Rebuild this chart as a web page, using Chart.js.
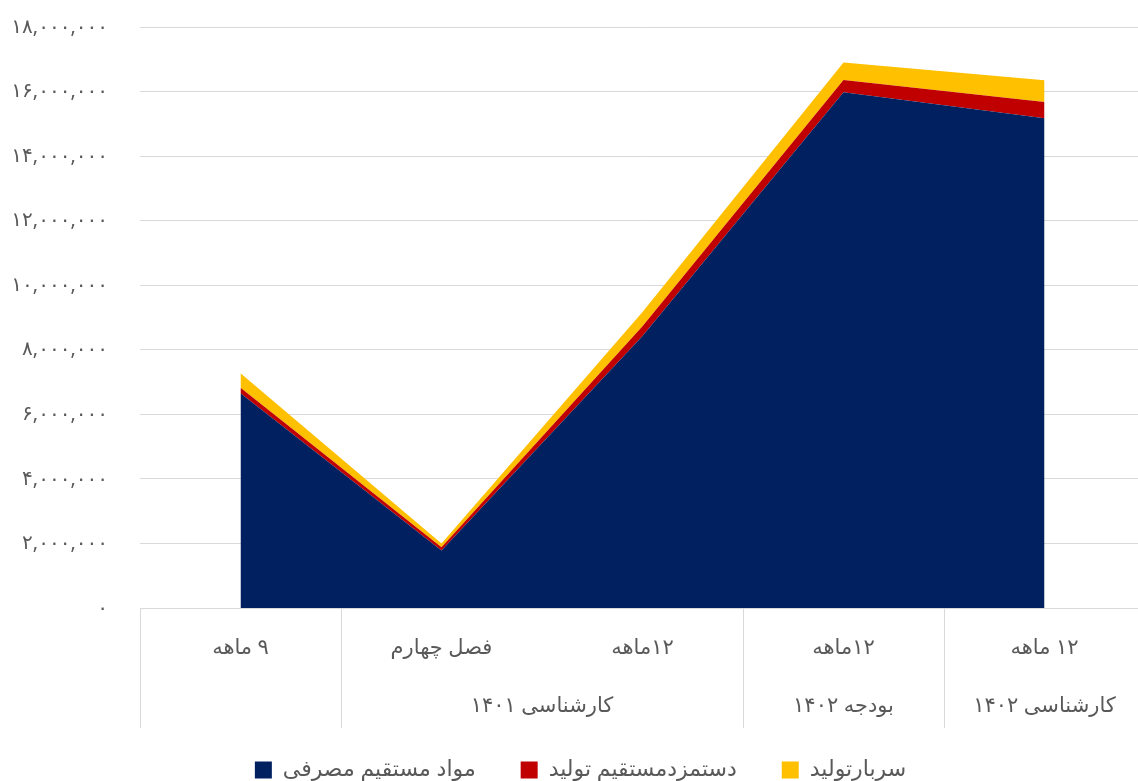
<!DOCTYPE html>
<html lang="fa">
<head>
    <meta charset="UTF-8">
    <title>بهای تمام شده - نمودار</title>
    <script src="https://cdn.jsdelivr.net/npm/chart.js"></script>
    <style>
        body, html {
            margin: 0;
            padding: 0;
            background: #fff;
            overflow: hidden;
        }
        #wrap {
            width: 1145px;
            height: 781px;
        }
    </style>
</head>
<body>

    <div id="wrap">
        <canvas id="costChart" width="1145" height="781" dir="rtl"></canvas>
    </div>

    <script>
        // Data
        const categories = ['۹ ماهه', 'فصل چهارم', '۱۲ماهه', '۱۲ماهه', '۱۲ ماهه'];
        const groupLabels = ['', 'کارشناسی ۱۴۰۱', 'بودجه ۱۴۰۲', 'کارشناسی ۱۴۰۲'];
        const groupSpans = [1, 2, 1, 1];

        const seriesNames = ['مواد مستقیم مصرفی', 'دستمزدمستقیم تولید', 'سربارتولید'];
        const materials = [6650000, 1780000, 8430000, 15980000, 15170000];
        const labor = [170000, 100000, 300000, 380000, 510000];
        const overhead = [450000, 120000, 440000, 540000, 670000];

        const yMin = 0;
        const yMax = 18000000;
        const yStep = 2000000;

        const textColor = '#595959';
        const gridColor = '#d9d9d9';
        const fontFamily = "'Noto Sans', 'DejaVu Sans', sans-serif";

        // turn 18,000,000 into Persian digits
        const faDigits = ['۰', '۱', '۲', '۳', '۴', '۵', '۶', '۷', '۸', '۹'];
        function toPersian(n) {
            return n.toLocaleString('en-US').replace(/[0-9]/g, d => faDigits[+d]);
        }

        // second row of the category axis + the separators
        const multiLevelAxis = {
            id: 'multiLevelAxis',
            afterLayout(chart) {
                // legend sits a little right of the canvas centre in the original
                chart.legend.left += 8;
                chart.legend.right += 8;
            },
            afterDraw(chart) {
                const ctx = chart.ctx;
                const area = chart.chartArea;
                const n = categories.length;
                const catW = (area.right - area.left) / n;
                const bottom = 728;

                ctx.save();
                ctx.strokeStyle = gridColor;
                ctx.lineWidth = 1;

                let idx = 0;
                const bounds = [0];
                groupSpans.forEach(s => { idx += s; bounds.push(idx); });
                bounds.forEach(b => {
                    const x = Math.round(area.left + b * catW) + 0.5;
                    ctx.beginPath();
                    ctx.moveTo(x, area.bottom);
                    ctx.lineTo(x, bottom);
                    ctx.stroke();
                });

                ctx.fillStyle = textColor;
                ctx.font = '21px ' + fontFamily;
                ctx.textAlign = 'center';
                ctx.textBaseline = 'middle';
                let start = 0;
                groupLabels.forEach((g, i) => {
                    const mid = area.left + (start + groupSpans[i] / 2) * catW;
                    if (g) ctx.fillText(g, mid, 706);
                    start += groupSpans[i];
                });
                ctx.restore();
            }
        };

        const ctx = document.getElementById('costChart').getContext('2d');
        new Chart(ctx, {
            type: 'line',
            data: {
                labels: categories,
                datasets: [{
                    label: seriesNames[0],
                    data: materials,
                    backgroundColor: '#002060',
                    borderColor: '#002060',
                    borderWidth: 0,
                    pointRadius: 0,
                    fill: 'origin'
                }, {
                    label: seriesNames[1],
                    data: labor,
                    backgroundColor: '#c00000',
                    borderColor: '#c00000',
                    borderWidth: 0,
                    pointRadius: 0,
                    fill: '-1'
                }, {
                    label: seriesNames[2],
                    data: overhead,
                    backgroundColor: '#ffc000',
                    borderColor: '#ffc000',
                    borderWidth: 0,
                    pointRadius: 0,
                    fill: '-1'
                }]
            },
            options: {
                responsive: false,
                animation: false,
                devicePixelRatio: 1,
                layout: {
                    padding: { top: 27, left: 0, right: 0, bottom: 0 }
                },
                plugins: {
                    legend: {
                        position: 'bottom',
                        maxHeight: 67,
                        labels: {
                            boxWidth: 17,
                            boxHeight: 17,
                            padding: 45,
                            color: textColor,
                            font: { family: fontFamily, size: 22 }
                        }
                    },
                    tooltip: { enabled: false }
                },
                scales: {
                    x: {
                        offset: true,
                        grid: { display: false },
                        border: { display: false },
                        ticks: {
                            color: textColor,
                            padding: 19,
                            maxRotation: 0,
                            font: { family: fontFamily, size: 21 }
                        },
                        afterFit(scale) {
                            scale.height = 106;
                        }
                    },
                    y: {
                        stacked: true,
                        min: yMin,
                        max: yMax,
                        grid: {
                            color: gridColor,
                            drawTicks: true,
                            tickLength: 29,
                            tickColor: 'rgba(0,0,0,0)'
                        },
                        border: { display: false },
                        ticks: {
                            stepSize: yStep,
                            padding: 3,
                            color: textColor,
                            font: { family: fontFamily, size: 20 },
                            callback: v => toPersian(v)
                        },
                        afterFit(scale) {
                            scale.width = 140;
                        }
                    }
                }
            },
            plugins: [multiLevelAxis]
        });
    </script>

</body>
</html>
